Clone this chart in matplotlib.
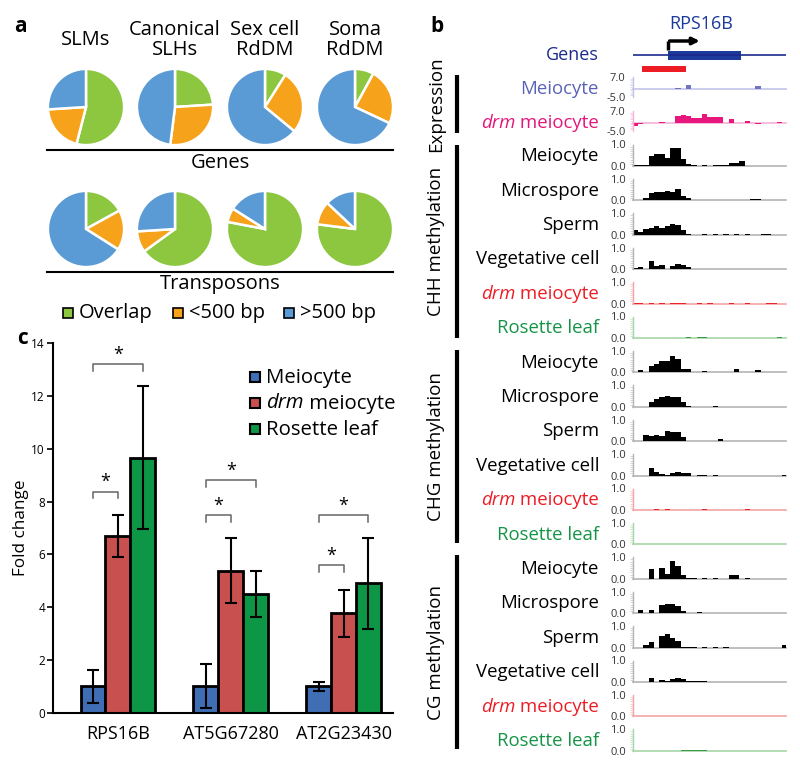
import matplotlib
matplotlib.use("Agg")
import matplotlib.pyplot as plt
from matplotlib.patches import Rectangle
from matplotlib.ticker import MultipleLocator
import numpy as np

W, H = 800, 766
plt.rcParams['font.family'] = ['Open Sans', 'DejaVu Sans']

# ---- panel a: pies ----
pie_titles = ["SLMs", "Canonical\nSLHs", "Sex cell\nRdDM", "Soma\nRdDM"]
pie_labels = ["Overlap", "<500 bp", ">500 bp"]
pie_colors = ["#8DC63F", "#F7A21B", "#5B9BD5"]
genes_frac = [[54, 20, 26], [24, 28, 48], [9, 27, 64], [8, 24, 68]]
te_frac = [[17, 17, 66], [65, 9, 26], [78, 6, 16], [77, 10, 13]]

# ---- panel b: browser tracks (29 bins each) ----
gene_start, gene_end = 6.6, 20.3
dmr_start, dmr_end = 1.75, 10.0
exp_meiocyte = [0, 0, 0, 0, 0, 0, 0, 0, 0.6, 0, 2.3, 0, 0, 0, 0, 0, 0, 0, 0, 0, 0, 0, 0, 1.3, 0, 0, 0, 0, 0]
exp_drm = [-1.9, -0.6, 0, 0, 0, 0.4, 0, 0, 4.2, 4.7, 3.8, 2.8, 2.8, 5.1, 3.2, 3.2, 3.4, 0, 2.3, 0, 0, 0.8, 0, -0.6, 0, 0, 0, 0.4, 0]

chh_meiocyte = [0.05, 0.05, 0.05, 0.46, 0.58, 0.58, 0.35, 0.86, 0.84, 0.32, 0.10, 0.03, 0, 0.03, 0, 0.05, 0.03, 0.03, 0.15, 0.15, 0.25, 0, 0, 0, 0, 0, 0, 0, 0]
chh_microspore = [0, 0.04, 0.10, 0.34, 0.37, 0.37, 0.45, 0.40, 0.53, 0.19, 0.12, 0.03, 0, 0.03, 0, 0.03, 0, 0, 0, 0, 0.03, 0.03, 0.05, 0.05, 0, 0, 0, 0, 0]
chh_sperm = [0.24, 0.11, 0.27, 0.33, 0.40, 0.32, 0.40, 0.52, 0.44, 0.24, 0.04, 0, 0, 0.03, 0, 0.03, 0, 0.03, 0, 0.03, 0, 0.03, 0, 0, 0.06, 0.03, 0, 0, 0]
chh_vegetative = [0.04, 0.10, 0.03, 0.40, 0.15, 0.18, 0.03, 0.14, 0.25, 0.18, 0.10, 0, 0, 0.03, 0, 0.03, 0, 0.03, 0, 0.03, 0, 0.03, 0, 0, 0, 0, 0, 0.03, 0.03]
chh_drm = [0.05, 0.05, 0, 0.03, 0, 0.03, 0, 0.03, 0.03, 0.03, 0, 0, 0.03, 0, 0.03, 0, 0, 0, 0.03, 0, 0, 0.03, 0, 0, 0, 0.03, 0.03, 0, 0]
chh_leaf = [0, 0, 0, 0, 0, 0, 0, 0, 0, 0, 0.03, 0, 0.03, 0.03, 0, 0, 0, 0, 0, 0, 0, 0, 0, 0, 0, 0, 0, 0.03, 0]

chg_meiocyte = [0, 0.10, 0.03, 0.30, 0.38, 0.54, 0.54, 0.77, 0.62, 0.15, 0.15, 0.03, 0, 0.05, 0.03, 0.03, 0.03, 0, 0, 0.17, 0.03, 0.03, 0, 0.12, 0.03, 0.03, 0.03, 0.03, 0]
chg_microspore = [0, 0, 0, 0.23, 0.35, 0.47, 0.50, 0.44, 0.44, 0.24, 0.06, 0, 0, 0, 0, 0.05, 0, 0, 0, 0, 0, 0, 0, 0, 0, 0, 0, 0, 0]
chg_sperm = [0, 0, 0.31, 0.23, 0.31, 0.23, 0.48, 0.45, 0.45, 0.19, 0.03, 0.03, 0, 0, 0, 0, 0.12, 0, 0, 0, 0, 0, 0, 0, 0, 0, 0, 0, 0]
chg_vegetative = [0, 0, 0, 0.34, 0.16, 0.09, 0.03, 0.12, 0.19, 0.12, 0.10, 0, 0.03, 0.03, 0, 0.03, 0, 0, 0, 0, 0, 0, 0, 0, 0, 0, 0, 0, 0.03]
chg_drm = [0, 0, 0, 0, 0.03, 0, 0.03, 0, 0, 0, 0, 0, 0, 0.03, 0, 0, 0, 0, 0, 0, 0, 0.03, 0, 0, 0, 0, 0, 0, 0]
chg_leaf = [0, 0, 0, 0, 0, 0, 0, 0, 0, 0.03, 0.03, 0, 0.03, 0.03, 0, 0, 0, 0, 0, 0, 0, 0, 0, 0, 0, 0, 0, 0, 0]

cg_meiocyte = [0, 0, 0, 0.44, 0, 0.49, 0.24, 0.81, 0.60, 0.16, 0.03, 0.03, 0, 0.03, 0, 0.03, 0, 0, 0.20, 0.16, 0, 0.03, 0, 0, 0, 0, 0, 0, 0]
cg_microspore = [0.03, 0.14, 0, 0.17, 0, 0.37, 0.44, 0.44, 0.32, 0.08, 0, 0, 0.06, 0, 0, 0, 0, 0, 0, 0, 0, 0, 0, 0, 0, 0, 0, 0, 0]
cg_sperm = [0, 0, 0.13, 0.25, 0, 0.56, 0.62, 0.46, 0.33, 0.05, 0.03, 0.03, 0, 0.03, 0, 0.03, 0, 0.03, 0, 0, 0, 0, 0, 0, 0, 0, 0, 0, 0.11]
cg_vegetative = [0, 0, 0, 0.19, 0, 0.11, 0.06, 0.16, 0.20, 0.12, 0.06, 0.05, 0.03, 0.03, 0, 0, 0, 0, 0, 0, 0, 0, 0, 0, 0, 0, 0, 0, 0]
cg_drm = [0, 0, 0, 0, 0, 0, 0, 0, 0, 0.03, 0.03, 0.03, 0, 0, 0, 0.03, 0, 0, 0, 0, 0, 0, 0, 0, 0, 0, 0.03, 0, 0]
cg_leaf = [0, 0, 0, 0, 0, 0, 0, 0, 0, 0.03, 0.03, 0.03, 0.03, 0.03, 0, 0, 0, 0, 0, 0, 0, 0, 0, 0, 0, 0, 0, 0, 0]

track_names = ["Meiocyte", "Microspore", "Sperm", "Vegetative cell", "drm meiocyte", "Rosette leaf"]
groups = ["CHH methylation", "CHG methylation", "CG methylation"]
meth_tracks = [
    [chh_meiocyte, chh_microspore, chh_sperm, chh_vegetative, chh_drm, chh_leaf],
    [chg_meiocyte, chg_microspore, chg_sperm, chg_vegetative, chg_drm, chg_leaf],
    [cg_meiocyte, cg_microspore, cg_sperm, cg_vegetative, cg_drm, cg_leaf],
]

# ---- panel c: qPCR ----
qpcr_genes = ["RPS16B", "AT5G67280", "AT2G23430"]
qpcr_series = ["Meiocyte", "drm meiocyte", "Rosette leaf"]
fc_meiocyte = [1.0, 1.0, 1.0]
fc_meiocyte_err = [0.62, 0.83, 0.18]
fc_drm = [6.70, 5.38, 3.77]
fc_drm_err = [0.80, 1.24, 0.89]
fc_leaf = [9.67, 4.50, 4.90]
fc_leaf_err = [2.71, 0.87, 1.72]
# (gene index, compared series index, bracket height)
sig_pairs = [(0, 1, 8.38), (0, 2, 13.2), (1, 1, 7.48), (1, 2, 8.82), (2, 1, 5.60), (2, 2, 7.48)]
bar_colors = ["#3F6EB4", "#C8504E", "#0E9647"]

fig = plt.figure(figsize=(W / 100, H / 100), dpi=100)


def px_axes(x0, y0, x1, y1):
    return fig.add_axes([x0 / W, 1 - y1 / H, (x1 - x0) / W, (y1 - y0) / H])


ov = fig.add_axes([0, 0, 1, 1])
ov.set_xlim(0, W)
ov.set_ylim(H, 0)
ov.axis('off')
ov.set_zorder(10)

FS = 13.4  # track labels


def italic_prefix_label(x, y, prefix, rest, size, color, ha='right'):
    # "drm meiocyte" with italic "drm"
    r = fig.canvas.get_renderer()
    if ha == 'right':
        t = ov.text(x, y, " " + rest, ha='right', va='baseline', fontsize=size, color=color)
        w = t.get_window_extent(r).width
        ov.text(x - w, y, prefix, ha='right', va='baseline', fontsize=size, color=color, style='italic')
    else:
        t = ov.text(x, y, prefix, ha='left', va='baseline', fontsize=size, color=color, style='italic')
        w = t.get_window_extent(r).width
        ov.text(x + w, y, " " + rest, ha='left', va='baseline', fontsize=size, color=color)


# panel labels
ov.text(20, 26, "a", fontsize=15, fontweight='bold', ha='center', va='center')
ov.text(437, 26, "b", fontsize=15, fontweight='bold', ha='center', va='center')
ov.text(22, 338, "c", fontsize=15, fontweight='bold', ha='center', va='center')

# ---------- panel a ----------
pie_x = [86, 175, 265, 355]
for i in range(4):
    ov.text(pie_x[i], 40, pie_titles[i], ha='center', va='center', fontsize=14.5, linespacing=0.95)
    for frac, cy in ((genes_frac[i], 107), (te_frac[i], 229)):
        ax = px_axes(pie_x[i] - 40, cy - 40, pie_x[i] + 40, cy + 40)
        ax.pie(frac, colors=pie_colors, startangle=90, counterclock=False,
               wedgeprops=dict(edgecolor='white', linewidth=1.8))
        ax.set_xlim(-1.05, 1.05)
        ax.set_ylim(-1.05, 1.05)

ov.plot([47, 393], [150, 150], color='black', lw=1.5)
ov.text(220, 163, "Genes", ha='center', va='center', fontsize=14.5)
ov.plot([47, 393], [272, 272], color='black', lw=1.5)
ov.text(220, 284, "Transposons", ha='center', va='center', fontsize=14.5)
for lx, lab, col in zip([63, 173, 284], pie_labels, pie_colors):
    ov.add_patch(Rectangle((lx, 307.5), 10, 10, facecolor=col, edgecolor='black', lw=1.2))
    ov.text(lx + 16, 313, lab, ha='left', va='center', fontsize=14.5)

# ---------- panel b ----------
TX0, TX1 = 632.7, 786
NVIEW = 28.75


def style_track(ax, axis_color, ylo, yhi, labels, minor):
    ax.set_xlim(0, NVIEW)
    ax.set_ylim(ylo, yhi)
    for s in ['top', 'right', 'bottom']:
        ax.spines[s].set_visible(False)
    ax.spines['left'].set_color(axis_color)
    ax.spines['left'].set_linewidth(1.0)
    ax.axhline(0, color=axis_color, lw=1.2, zorder=0, clip_on=False)
    ax.set_xticks([])
    ax.set_yticks([ylo, yhi])
    ax.set_yticklabels(labels)
    ax.yaxis.set_minor_locator(MultipleLocator(minor))
    ax.tick_params(which='major', length=0, pad=5, labelsize=8, labelcolor='#333333')
    ax.tick_params(which='minor', length=2, width=0.4, color=axis_color, direction='out')
    ax.patch.set_alpha(0)


# gene model
gax = px_axes(TX0, 34, TX1, 74)
gax.set_xlim(0, NVIEW)
gax.set_ylim(74, 34)
gax.axis('off')
gax.plot([-0.3, NVIEW], [55, 55], color='#1B2A8C', lw=1.2)
gax.add_patch(Rectangle((gene_start, 50.5), gene_end - gene_start, 9, facecolor='#1B3A9C', edgecolor='none'))
gax.plot([gene_start, gene_start], [50, 41], color='black', lw=2.5, solid_capstyle='butt')
gax.annotate("", xy=(gene_start + 6.5, 41), xytext=(gene_start - 0.2, 41),
             arrowprops=dict(arrowstyle='-|>', color='black', lw=2.5, mutation_scale=10))
gax.add_patch(Rectangle((dmr_start, 66), dmr_end - dmr_start, 5.5, facecolor='#ED1C24', edgecolor='none'))
ov.text(701, 29, "RPS16B", ha='center', va='baseline', fontsize=13, color='#1B3A9C')
ov.text(599, 60, "Genes", ha='right', va='baseline', fontsize=13, color='#1B2A8C')

# expression tracks
bins = np.arange(len(exp_meiocyte))
for vals, top, bot, col, axcol in ((exp_meiocyte, 77, 97, '#7175C0', '#C2C4E6'),
                                   (exp_drm, 111, 131, '#E8177D', '#F6B3D2')):
    ax = px_axes(TX0, top, TX1, bot)
    ax.bar(bins, vals, width=1, align='edge', color=col, linewidth=0)
    style_track(ax, axcol, -5, 7, ["-5.0", "7.0"], 1)
ov.text(599, 94, "Meiocyte", ha='right', va='baseline', fontsize=FS, color='#5A62B8')
italic_prefix_label(599, 128, "drm", "meiocyte", FS, '#E5157A')

# methylation tracks
name_colors = ['black', 'black', 'black', 'black', '#ED1C24', '#159447']
bar_cols = ['black', 'black', 'black', 'black', '#E8242A', '#3A9A4A']
axis_cols = ['#B4B4B4', '#B4B4B4', '#B4B4B4', '#B4B4B4', '#F4A6A6', '#A8D5A8']
base0, spacing, th = 166.0, 34.4, 21.5
for g, tracks in enumerate(meth_tracks):
    for k, vals in enumerate(tracks):
        yb = base0 + spacing * (6 * g + k)
        ax = px_axes(TX0, yb - th, TX1, yb)
        ax.bar(bins, vals, width=1, align='edge', color=bar_cols[k], linewidth=0)
        style_track(ax, axis_cols[k], 0, 1, ["0.0", "1.0"], 0.1)
        yc = yb - th / 2 + 6
        if k == 4:
            italic_prefix_label(599, yc, "drm", "meiocyte", FS, name_colors[k])
        else:
            ov.text(599, yc, track_names[k], ha='right', va='baseline', fontsize=FS, color=name_colors[k])

# group bars + rotated labels
group_spans = [("Expression", 75, 133), (groups[0], 145, 338), (groups[1], 350, 543), (groups[2], 555, 749)]
for lab, y0, y1 in group_spans:
    ov.plot([456.7, 456.7], [y0, y1], color='black', lw=3, solid_capstyle='butt')
    ov.text(436, (y0 + y1) / 2, lab, rotation=90, ha='center', va='center', fontsize=13.5)

# ---------- panel c ----------
cax = px_axes(53.3, 343.3, 393, 712.7)
x = np.arange(len(qpcr_genes))
bw = 0.22
series = [(fc_meiocyte, fc_meiocyte_err), (fc_drm, fc_drm_err), (fc_leaf, fc_leaf_err)]
for j, (vals, errs) in enumerate(series):
    cax.bar(x + (j - 1) * bw, vals, width=bw, color=bar_colors[j], edgecolor='black', linewidth=2,
            yerr=errs, error_kw=dict(ecolor='black', elinewidth=1.5, capsize=4.5, capthick=1.5), zorder=2)
for gi, sj, hgt in sig_pairs:
    xa = gi - bw
    xb = gi + (sj - 1) * bw
    cax.plot([xa, xa, xb, xb], [hgt - 0.25, hgt, hgt, hgt - 0.25], color='#666666', lw=1.1)
    cax.text((xa + xb) / 2, hgt + 0.02, "*", ha='center', va='bottom', fontsize=13)
cax.set_xlim(-0.571, 2.437)
cax.set_ylim(0, 14)
cax.set_yticks(np.arange(0, 15, 2))
cax.set_xticks(x)
cax.set_xticklabels(qpcr_genes, fontsize=13)
cax.tick_params(axis='x', length=0, pad=9)
cax.tick_params(axis='y', length=4, width=1.2, labelsize=8.5, pad=2)
for s in ['top', 'right']:
    cax.spines[s].set_visible(False)
for s in ['left', 'bottom']:
    cax.spines[s].set_linewidth(1.5)
ov.text(21, 528, "Fold change", rotation=90, ha='center', va='center', fontsize=12.3)

# legend c
for j, (yc, lab) in enumerate(zip([376.5, 402.5, 429], qpcr_series)):
    ov.add_patch(Rectangle((250, yc - 5), 10, 10, facecolor=bar_colors[j], edgecolor='black', lw=1.5))
    if j == 1:
        italic_prefix_label(266.5, yc + 6, "drm", "meiocyte", 14.7, 'black', ha='left')
    else:
        ov.text(266.5, yc + 6, lab, ha='left', va='baseline', fontsize=14.7)

fig.savefig("out.png", dpi=100)
